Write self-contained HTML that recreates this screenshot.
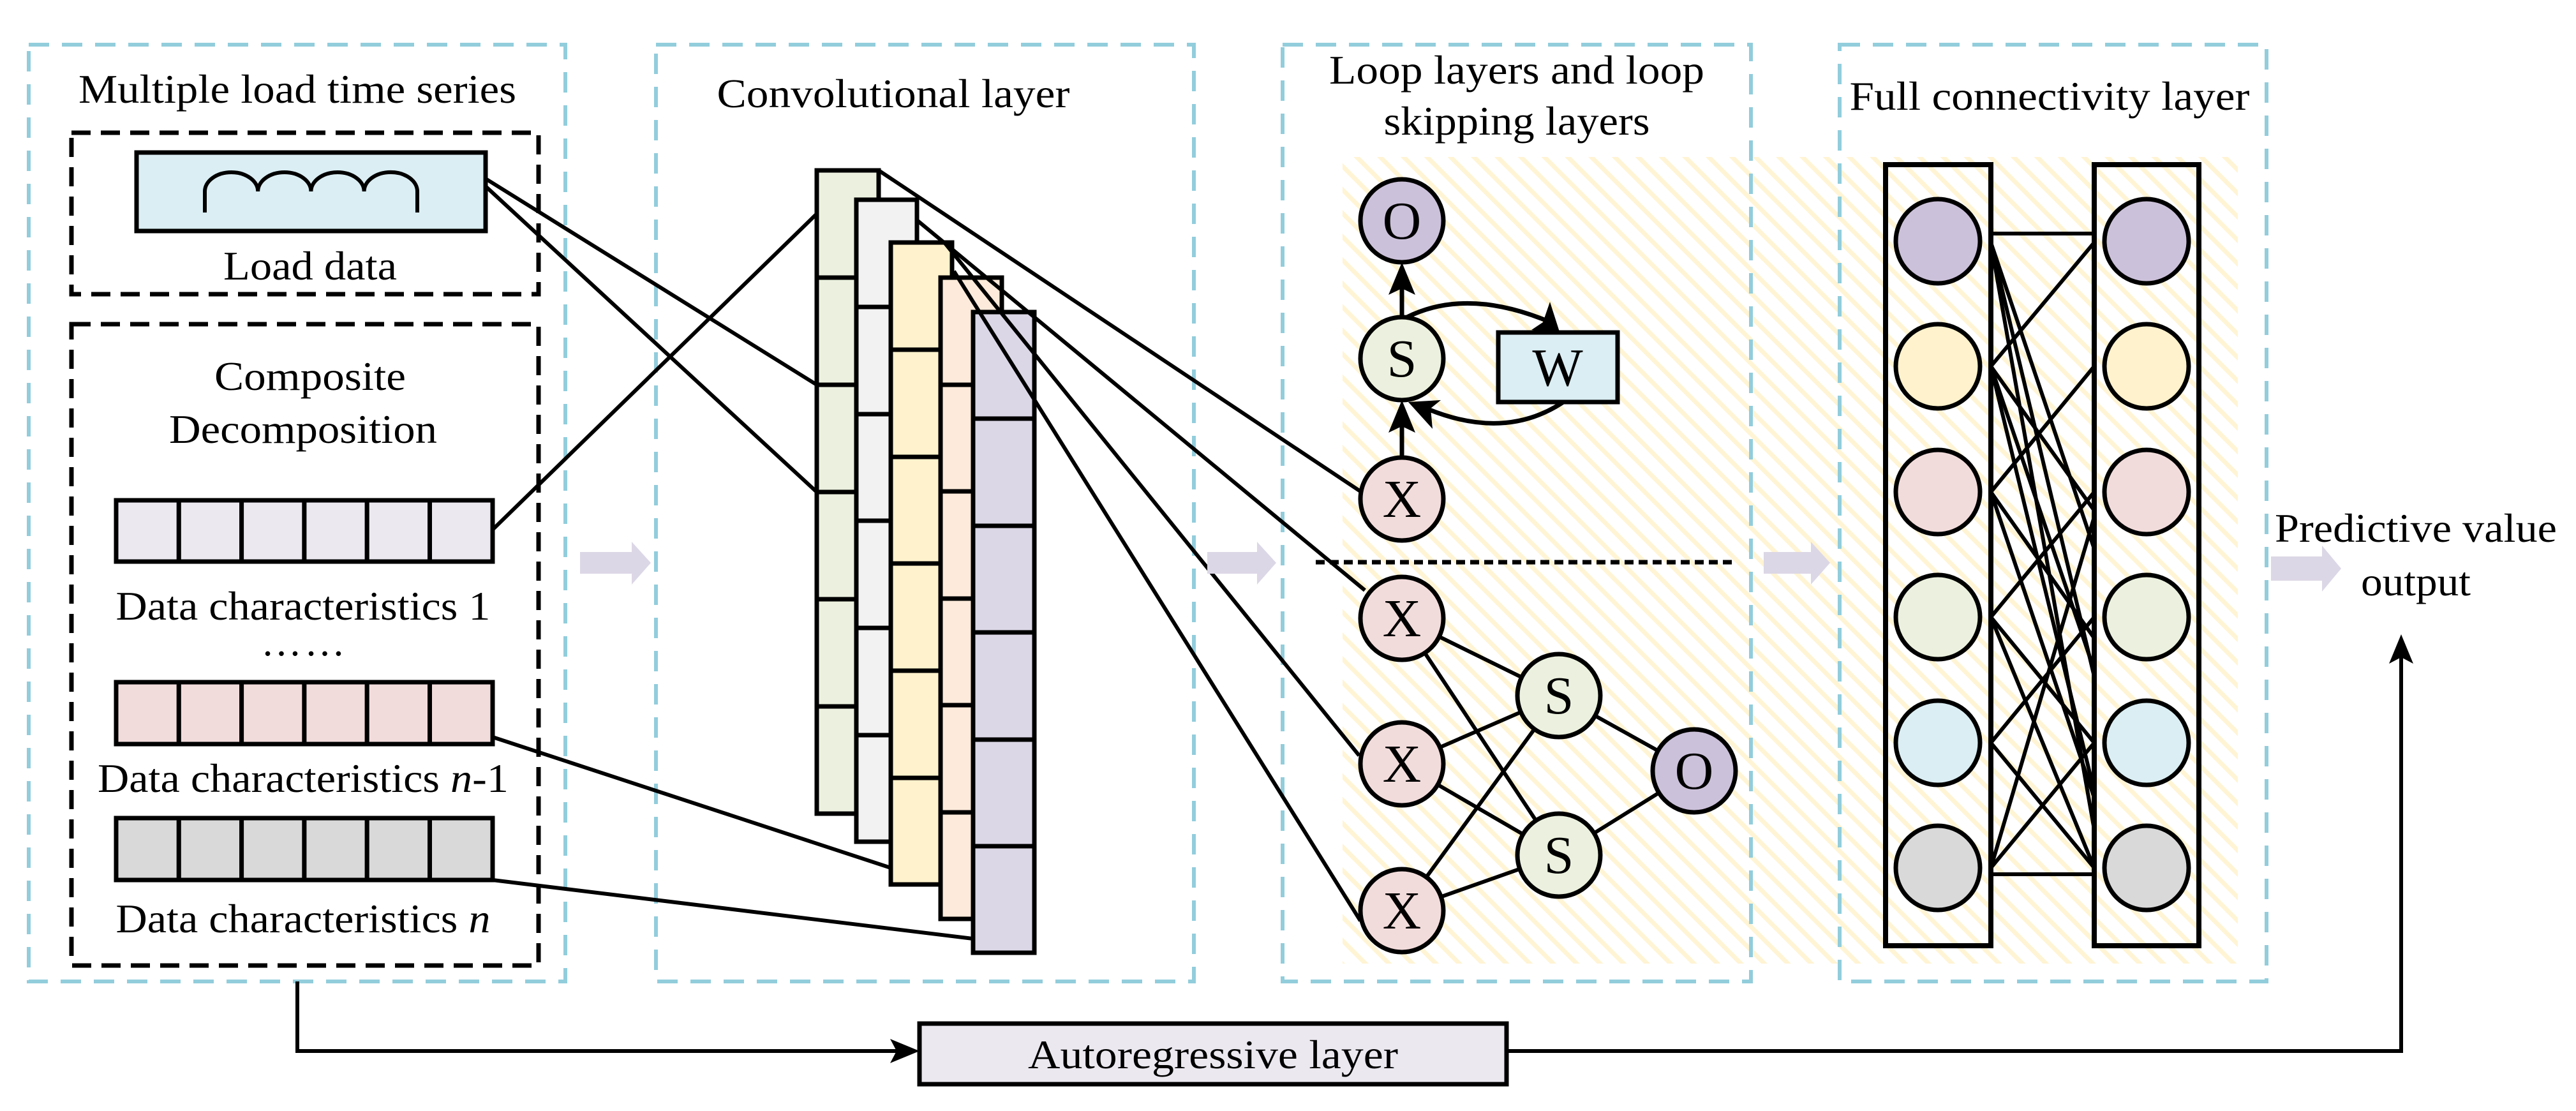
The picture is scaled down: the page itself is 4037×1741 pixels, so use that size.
<!DOCTYPE html>
<html><head><meta charset="utf-8"><style>html,body{margin:0;padding:0;background:#fff}svg{display:block}</style></head>
<body>
<svg xmlns="http://www.w3.org/2000/svg" width="4037" height="1741" viewBox="0 0 4037 1741" font-family="'Liberation Serif', serif">
<defs>
<pattern id="hatch" width="26" height="26" patternUnits="userSpaceOnUse" patternTransform="rotate(-45)">
<rect x="0" y="0" width="7" height="26" fill="#fff4d4"/>
</pattern>
</defs>
<rect width="4037" height="1741" fill="#fff"/>
<rect x="2104" y="246" width="1403" height="1264" fill="url(#hatch)"/>

<g fill="none" stroke="#92cddc" stroke-width="6" stroke-dasharray="32,20">
<rect x="45" y="70" width="841" height="1468"/>
<rect x="1028" y="70" width="843" height="1468"/>
<rect x="2010" y="70" width="734" height="1468"/>
<rect x="2883" y="70" width="669" height="1468"/>
</g>
<g fill="none" stroke="#000" stroke-width="7" stroke-dasharray="30,16">
<rect x="112" y="208" width="732" height="253"/>
<rect x="112" y="508" width="732" height="1005"/>
</g>

<g font-size="64" fill="#000" text-anchor="middle">
<text x="466" y="161" textLength="686" lengthAdjust="spacingAndGlyphs">Multiple load time series</text>
<text x="1400" y="168" textLength="553" lengthAdjust="spacingAndGlyphs">Convolutional layer</text>
<text x="2377" y="131" textLength="588" lengthAdjust="spacingAndGlyphs">Loop layers and loop</text>
<text x="2377" y="211" textLength="417" lengthAdjust="spacingAndGlyphs">skipping layers</text>
<text x="3212" y="172" textLength="627" lengthAdjust="spacingAndGlyphs">Full connectivity layer</text>
<text x="486" y="438" textLength="272" lengthAdjust="spacingAndGlyphs">Load data</text>
<text x="486" y="611" textLength="300" lengthAdjust="spacingAndGlyphs">Composite</text>
<text x="475" y="694" textLength="420" lengthAdjust="spacingAndGlyphs">Decomposition</text>
<text x="475" y="971" textLength="587" lengthAdjust="spacingAndGlyphs">Data characteristics 1</text>
<text x="475" y="1241" textLength="644" lengthAdjust="spacingAndGlyphs">Data characteristics <tspan font-style="italic">n</tspan>-1</text>
<text x="475" y="1461" textLength="587" lengthAdjust="spacingAndGlyphs">Data characteristics <tspan font-style="italic">n</tspan></text>
<text x="3786" y="849" textLength="442" lengthAdjust="spacingAndGlyphs">Predictive value</text>
<text x="3786" y="933" textLength="172" lengthAdjust="spacingAndGlyphs">output</text>
</g>
<text x="477" y="1027" font-size="64" text-anchor="middle" letter-spacing="4">……</text>

<rect x="214" y="239" width="547" height="123" fill="#daeef3" stroke="#000" stroke-width="7"/>
<path d="M321 333 V300 A41.6 30 0 0 1 404.2 300 A41.6 30 0 0 1 487.4 300 A41.6 30 0 0 1 570.6 300 A41.6 30 0 0 1 654 300 V333" fill="none" stroke="#000" stroke-width="6"/>

<g stroke="#000" stroke-width="7">
<g fill="#ebe8f0">
<rect x="182" y="784" width="98.3" height="96"/><rect x="280.3" y="784" width="98.3" height="96"/><rect x="378.6" y="784" width="98.3" height="96"/><rect x="476.9" y="784" width="98.3" height="96"/><rect x="575.2" y="784" width="98.3" height="96"/><rect x="673.5" y="784" width="98.5" height="96"/>
</g>
<g fill="#f2dcdb">
<rect x="182" y="1069" width="98.3" height="97"/><rect x="280.3" y="1069" width="98.3" height="97"/><rect x="378.6" y="1069" width="98.3" height="97"/><rect x="476.9" y="1069" width="98.3" height="97"/><rect x="575.2" y="1069" width="98.3" height="97"/><rect x="673.5" y="1069" width="98.5" height="97"/>
</g>
<g fill="#d9d9d9">
<rect x="182" y="1282" width="98.3" height="97"/><rect x="280.3" y="1282" width="98.3" height="97"/><rect x="378.6" y="1282" width="98.3" height="97"/><rect x="476.9" y="1282" width="98.3" height="97"/><rect x="575.2" y="1282" width="98.3" height="97"/><rect x="673.5" y="1282" width="98.5" height="97"/>
</g>
</g>

<g stroke="#000" stroke-width="7">
<rect x="1280" y="267" width="97" height="1008" fill="#ebf1de"/>
<path d="M1280 435H1377M1280 603H1377M1280 771H1377M1280 939H1377M1280 1107H1377"/>
<rect x="1342" y="313" width="95" height="1006" fill="#f2f2f2"/>
<path d="M1342 481H1437M1342 649H1437M1342 816H1437M1342 984H1437M1342 1152H1437"/>
<rect x="1396" y="380" width="96" height="1006" fill="#fff2cc"/>
<path d="M1396 548H1492M1396 716H1492M1396 883H1492M1396 1051H1492M1396 1219H1492"/>
<rect x="1474" y="435" width="96" height="1005" fill="#fdeada"/>
<path d="M1474 603H1570M1474 770H1570M1474 938H1570M1474 1105H1570M1474 1273H1570"/>
<rect x="1525" y="489" width="96" height="1004" fill="#dcd7e6"/>
<path d="M1525 656H1621M1525 824H1621M1525 991H1621M1525 1159H1621M1525 1326H1621"/>
</g>

<g stroke="#000" stroke-width="6" fill="none">
<line x1="761" y1="280" x2="1280" y2="603"/>
<line x1="761" y1="292" x2="1280" y2="771"/>
<line x1="772" y1="830" x2="1280" y2="335"/>
<line x1="772" y1="1155" x2="1396" y2="1360"/>
<line x1="772" y1="1379" x2="1525" y2="1471"/>
<line x1="1377" y1="267" x2="2132" y2="770"/>
<line x1="1437" y1="345" x2="2139" y2="925"/>
<line x1="1480" y1="380" x2="2130" y2="1184"/>
<line x1="1495" y1="425" x2="2132" y2="1443"/>
<polyline points="466,1538 466,1647 1405,1647"/>
<polyline points="2361,1647 3763,1647 3763,1030"/>
</g>
<polygon points="1441,1647 1395,1628 1405,1647 1395,1666" fill="#000"/>
<polygon points="3763,994 3744,1040 3763,1030 3782,1040" fill="#000"/>
<rect x="1441" y="1604" width="920" height="95" fill="#ebe8f0" stroke="#000" stroke-width="7"/>
<text x="1901" y="1674" font-size="64" text-anchor="middle" textLength="580" lengthAdjust="spacingAndGlyphs">Autoregressive layer</text>

<g fill="#dcd7e6">
<polygon points="909,865 990,865 990,849 1020,882 990,916 990,899 909,899"/>
<polygon points="1892,865 1970,865 1970,849 2000,882 1970,916 1970,899 1892,899"/>
<polygon points="2764,865 2838,865 2838,849 2868,882 2838,916 2838,899 2764,899"/>
<polygon points="3559,872 3639,872 3639,855 3669,891 3639,927 3639,910 3559,910"/>
</g>

<g stroke="#000" stroke-width="7" fill="none">
<line x1="2197" y1="717" x2="2197" y2="650"/>
<line x1="2197" y1="497" x2="2197" y2="440"/>
<path d="M2205 497 Q2300 450 2430 505"/>
<path d="M2450 630 Q2360 690 2240 642"/>
<line x1="2062" y1="881" x2="2717" y2="881" stroke-dasharray="14,8" stroke-width="7"/>
</g>
<polygon points="2197,411 2176,462 2197,452 2218,462" fill="#000"/>
<polygon points="2197,627 2176,678 2197,668 2218,678" fill="#000"/>
<polygon points="2445,523 2400,517 2418,505 2429,473" fill="#000"/>
<polygon points="2207,630 2258,627 2242,640 2245,672" fill="#000"/>
<rect x="2348" y="521" width="187" height="109" fill="#daeef3" stroke="#000" stroke-width="7"/>

<g stroke="#000" stroke-width="6">
<line x1="2197" y1="969" x2="2443" y2="1090"/>
<line x1="2197" y1="969" x2="2443" y2="1340"/>
<line x1="2197" y1="1197" x2="2443" y2="1090"/>
<line x1="2197" y1="1197" x2="2443" y2="1340"/>
<line x1="2197" y1="1427" x2="2443" y2="1090"/>
<line x1="2197" y1="1427" x2="2443" y2="1340"/>
<line x1="2443" y1="1090" x2="2655" y2="1208"/>
<line x1="2443" y1="1340" x2="2655" y2="1208"/>
</g>

<g stroke="#000" stroke-width="7">
<circle cx="2197" cy="346" r="65" fill="#ccc1da"/>
<circle cx="2197" cy="562" r="65" fill="#ebf1de"/>
<circle cx="2197" cy="782" r="65" fill="#f2dcdb"/>
<circle cx="2197" cy="969" r="65" fill="#f2dcdb"/>
<circle cx="2197" cy="1197" r="65" fill="#f2dcdb"/>
<circle cx="2197" cy="1427" r="65" fill="#f2dcdb"/>
<circle cx="2443" cy="1090" r="65" fill="#ebf1de"/>
<circle cx="2443" cy="1340" r="65" fill="#ebf1de"/>
<circle cx="2655" cy="1208" r="65" fill="#ccc1da"/>
</g>
<g font-size="84" text-anchor="middle">
<text x="2197" y="374">O</text>
<text x="2197" y="590">S</text>
<text x="2197" y="810">X</text>
<text x="2197" y="997">X</text>
<text x="2197" y="1225">X</text>
<text x="2197" y="1455">X</text>
<text x="2443" y="1118">S</text>
<text x="2443" y="1368">S</text>
<text x="2655" y="1236">O</text>
<text x="2441" y="604">W</text>
</g>

<rect x="2955" y="258" width="165" height="1224" fill="none" stroke="#000" stroke-width="8"/>
<rect x="3282" y="258" width="164" height="1224" fill="none" stroke="#000" stroke-width="8"/>
<g stroke="#000" stroke-width="6">
<line x1="3120" y1="366" x2="3282" y2="366"/>
<line x1="3120" y1="1370" x2="3282" y2="1370"/>
<line x1="3120" y1="380" x2="3282" y2="860"/>
<line x1="3120" y1="380" x2="3282" y2="1060"/>
<line x1="3120" y1="380" x2="3282" y2="1300"/>
<line x1="3120" y1="574" x2="3282" y2="380"/>
<line x1="3120" y1="574" x2="3282" y2="800"/>
<line x1="3120" y1="574" x2="3282" y2="1050"/>
<line x1="3120" y1="574" x2="3282" y2="1240"/>
<line x1="3120" y1="771" x2="3282" y2="574"/>
<line x1="3120" y1="771" x2="3282" y2="1000"/>
<line x1="3120" y1="771" x2="3282" y2="1250"/>
<line x1="3120" y1="967" x2="3282" y2="771"/>
<line x1="3120" y1="967" x2="3282" y2="1164"/>
<line x1="3120" y1="967" x2="3282" y2="1360"/>
<line x1="3120" y1="1164" x2="3282" y2="967"/>
<line x1="3120" y1="1164" x2="3282" y2="1360"/>
<line x1="3120" y1="1360" x2="3282" y2="1164"/>
<line x1="3120" y1="1360" x2="3282" y2="810"/>
</g>
<g stroke="#000" stroke-width="7">
<circle cx="3037" cy="378" r="66" fill="#ccc1da"/>
<circle cx="3037" cy="574" r="66" fill="#fff2cc"/>
<circle cx="3037" cy="771" r="66" fill="#f2dcdb"/>
<circle cx="3037" cy="967" r="66" fill="#ebf1de"/>
<circle cx="3037" cy="1164" r="66" fill="#daeef3"/>
<circle cx="3037" cy="1360" r="66" fill="#d9d9d9"/>
<circle cx="3364" cy="378" r="66" fill="#ccc1da"/>
<circle cx="3364" cy="574" r="66" fill="#fff2cc"/>
<circle cx="3364" cy="771" r="66" fill="#f2dcdb"/>
<circle cx="3364" cy="967" r="66" fill="#ebf1de"/>
<circle cx="3364" cy="1164" r="66" fill="#daeef3"/>
<circle cx="3364" cy="1360" r="66" fill="#d9d9d9"/>
</g>
</svg>
</body></html>
